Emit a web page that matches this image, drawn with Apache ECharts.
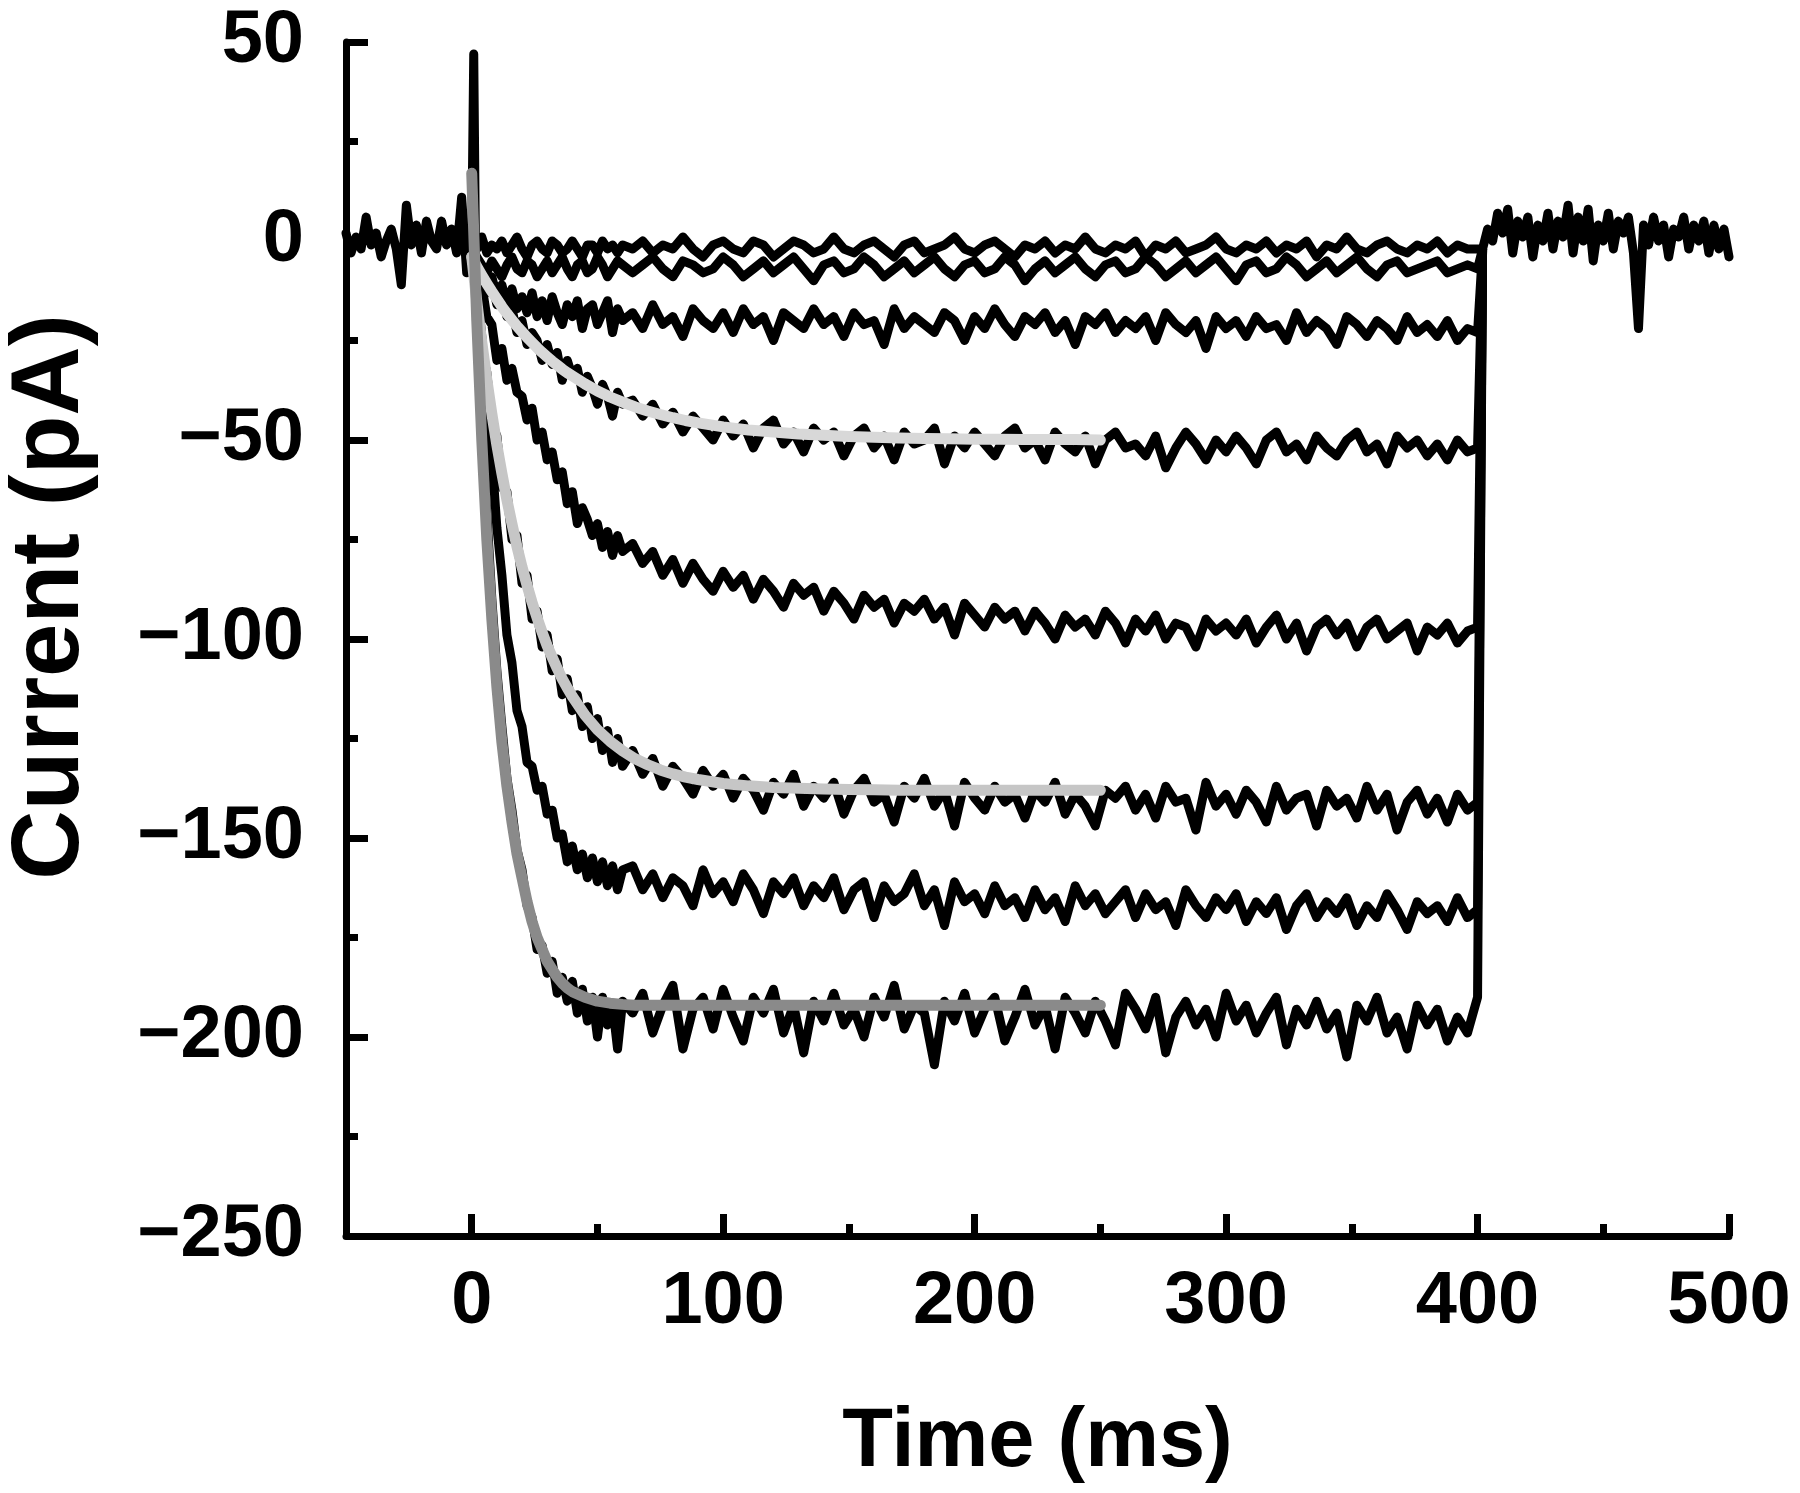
<!DOCTYPE html>
<html>
<head>
<meta charset="utf-8">
<script src="https://cdn.jsdelivr.net/npm/echarts@6/dist/echarts.min.js"></script>
<style>
html,body{margin:0;padding:0;background:#fff;}
#chart{width:1800px;height:1493px;}
</style>
</head>
<body>
<div id="chart"></div>
<script>
// ---------- tick values ----------
const X_MAJOR = [0, 100, 200, 300, 400, 500];
const X_MINOR = [50, 150, 250, 350, 450];

// ---------- pre-pulse baseline (ms, pA) ----------
const PRE_T = [-50,-48,-46,-44,-42,-40,-38,-36,-34,-32,-30,-28,-26,-24,-22,-20,-18,-16,-14,-12,-10,-8,-6,-4,-2];
const PRE_I = [2,-3,1,-2,6,-1,2,-4,0,3,-2,-11,9,-1,4,-3,5,0,-2,5,-1,3,-3,11,-8];

// ---------- capacitive transient at pulse onset ----------
const SPIKE_T = [0, 0.8, 1.6];
const SPIKE_I = [0, 47, -10];

// ---------- post-pulse (tail back to 0) ----------
const POST_T = [402,404,406,408,410,412,414,416,418,420,422,424,426,428,430,432,434,436,438,440,
                442,444,446,448,450,452,454,456,458,460,462,464,466,468,470,472,474,476,478,480,
                482,484,486,488,490,492,494,496,498,500];
const POST_I = [-2,3,0,7,2,8,-3,5,1,6,-4,4,0,7,-2,5,1,9,-3,6,
                0,8,-5,4,0,7,-2,5,2,6,-3,-22,4,-1,6,0,4,-4,3,1,
                6,-2,4,0,5,-3,4,-2,3,-4];

// ---------- sample times during the pulse (ms) ----------
const TIME = [0,2,4,6,8,10,12,14,16,18,
              20,22,24,26,28,30,32,34,36,38,
              40,42,44,46,48,50,52,54,56,58,
              60,
              64,68,72,76,80,84,88,92,96,100,
              104,108,112,116,120,124,128,132,136,140,
              144,148,152,156,160,164,168,172,176,180,
              184,188,192,196,200,204,208,212,216,220,
              224,228,232,236,240,244,248,252,256,260,
              264,268,272,276,280,284,288,292,296,300,
              304,308,312,316,320,324,328,332,336,340,
              344,348,352,356,360,364,368,372,376,380,
              384,388,392,396,400];

// ---------- current traces (pA) ----------
const TRACE_1 = [0,-2,1,-3,-1,-2,0,-3,-1,1,
                 -2,-4,-1,0,-2,-3,0,-1,-3,-2,
                 0,-2,-4,-1,-1,-3,0,-2,-1,-3,
                 -1,
                 -2,0,-3,-1,-2,1,-2,-4,-1,0,
                 -2,-3,0,-1,-4,-2,0,-1,-3,-2,
                 1,-2,-3,-1,0,-2,-4,-1,0,-3,
                 -2,-1,1,-2,-3,-1,0,-2,-4,-1,
                 -2,0,-3,-1,-2,1,-2,-3,-1,-2,
                 0,-4,-1,-2,0,-3,-2,-1,1,-2,
                 -3,-1,-2,0,-3,-1,-2,0,-4,-1,
                 -2,1,-2,-3,-1,0,-2,-3,-1,-2,
                 0,-3,-1,-2,-2];
const TRACE_2 = [-1,-4,-6,-8,-5,-7,-9,-6,-4,-7,
                 -8,-5,-6,-9,-7,-5,-8,-6,-4,-7,
                 -9,-6,-5,-8,-7,-4,-6,-9,-7,-5,
                 -6,
                 -8,-6,-4,-7,-9,-5,-6,-8,-7,-4,
                 -6,-9,-7,-5,-8,-6,-4,-7,-10,-6,
                 -5,-8,-7,-4,-6,-9,-7,-5,-8,-6,
                 -4,-7,-9,-6,-5,-8,-7,-4,-6,-10,
                 -7,-5,-8,-6,-4,-7,-9,-6,-5,-8,
                 -7,-4,-6,-9,-7,-5,-8,-6,-4,-7,
                 -10,-6,-5,-8,-7,-4,-6,-9,-7,-5,
                 -8,-6,-4,-7,-9,-6,-5,-8,-7,-6,
                 -5,-8,-7,-6,-7];
const TRACE_3 = [0,-6,-7,-12,-9,-14,-11,-16,-12,-17,
                 -14,-18,-13,-19,-15,-20,-14,-18,-21,-16,
                 -19,-15,-22,-17,-16,-21,-18,-15,-23,-17,
                 -20,
                 -18,-22,-16,-21,-19,-24,-17,-20,-22,-18,
                 -23,-17,-21,-19,-25,-18,-20,-22,-17,-21,
                 -19,-24,-18,-21,-20,-26,-17,-22,-19,-21,
                 -23,-18,-20,-25,-19,-22,-17,-21,-24,-19,
                 -21,-18,-23,-20,-26,-19,-21,-18,-23,-20,
                 -22,-19,-25,-18,-21,-23,-20,-27,-19,-22,
                 -20,-24,-19,-22,-21,-25,-18,-23,-20,-22,
                 -26,-19,-21,-24,-20,-22,-25,-19,-23,-21,
                 -24,-20,-25,-22,-23];
const TRACE_4 = [-3,-8,-7,-13,-10,-16,-14,-19,-17,-23,
                 -20,-26,-23,-25,-30,-26,-31,-28,-35,-30,
                 -34,-32,-38,-34,-37,-41,-36,-39,-44,-38,
                 -41,
                 -40,-44,-41,-46,-43,-48,-44,-47,-50,-45,
                 -49,-46,-52,-47,-45,-51,-48,-53,-47,-50,
                 -48,-54,-49,-47,-52,-49,-55,-48,-51,-50,
                 -47,-56,-49,-52,-48,-51,-54,-49,-47,-52,
                 -50,-55,-48,-51,-53,-49,-56,-50,-48,-52,
                 -51,-54,-49,-57,-52,-48,-51,-55,-50,-53,
                 -49,-52,-56,-50,-48,-53,-51,-55,-49,-52,
                 -54,-50,-48,-53,-51,-56,-49,-52,-50,-54,
                 -51,-55,-50,-53,-52];
const TRACE_5 = [-2,-7,-11,-19,-21,-30,-27,-35,-32,-38,
                 -39,-45,-42,-50,-48,-55,-53,-60,-58,-66,
                 -63,-71,-67,-70,-74,-71,-77,-73,-79,-74,
                 -78,
                 -76,-81,-78,-84,-80,-86,-81,-85,-88,-83,
                 -87,-84,-90,-85,-88,-92,-86,-89,-87,-93,
                 -88,-91,-95,-89,-92,-90,-96,-91,-93,-90,
                 -95,-92,-99,-91,-94,-97,-92,-95,-93,-98,
                 -93,-96,-100,-94,-97,-95,-99,-93,-96,-101,
                 -95,-98,-94,-100,-96,-97,-102,-95,-98,-96,
                 -99,-95,-101,-97,-94,-100,-96,-103,-97,-95,
                 -99,-96,-102,-97,-95,-100,-98,-96,-103,-97,
                 -99,-96,-101,-98,-97];
const TRACE_6 = [-3,-14,-28,-33,-46,-49,-62,-63,-75,-74,
                 -86,-84,-95,-93,-102,-99,-108,-105,-114,-110,
                 -118,-114,-122,-117,-125,-120,-128,-123,-131,-125,
                 -132,
                 -128,-134,-130,-137,-132,-135,-139,-133,-137,-134,
                 -140,-135,-138,-143,-136,-139,-134,-142,-137,-140,
                 -136,-144,-138,-135,-141,-139,-146,-137,-140,-135,
                 -142,-138,-147,-136,-140,-143,-137,-141,-139,-145,
                 -138,-141,-136,-144,-139,-142,-147,-138,-140,-137,
                 -143,-139,-145,-137,-141,-140,-148,-136,-142,-139,
                 -144,-138,-141,-146,-137,-143,-140,-139,-147,-138,
                 -142,-140,-145,-137,-143,-139,-148,-141,-138,-144,
                 -140,-146,-139,-143,-141];
const TRACE_7 = [-2,-11,-24,-42,-54,-72,-84,-99,-106,-118,
                 -122,-131,-132,-138,-137,-144,-143,-150,-149,-156,
                 -152,-158,-154,-160,-155,-161,-156,-162,-157,-163,
                 -158,
                 -157,-163,-159,-165,-160,-162,-167,-158,-164,-161,
                 -166,-159,-163,-169,-161,-164,-160,-167,-162,-165,
                 -160,-168,-163,-161,-170,-162,-166,-164,-159,-167,
                 -163,-172,-161,-166,-164,-169,-162,-167,-165,-170,
                 -163,-168,-165,-171,-162,-167,-164,-169,-166,-163,
                 -170,-164,-168,-166,-172,-163,-167,-170,-165,-168,
                 -164,-171,-166,-169,-165,-173,-167,-164,-170,-166,
                 -169,-165,-172,-167,-170,-164,-168,-173,-166,-169,
                 -167,-171,-165,-170,-168];
const TRACE_8 = [0,-14,-44,-68,-90,-108,-122,-135,-143,-153,
                 -158,-167,-170,-178,-177,-184,-181,-189,-185,-191,
                 -186,-194,-188,-196,-190,-200,-190,-197,-192,-203,
                 -191,
                 -194,-189,-199,-192,-187,-203,-193,-190,-198,-188,
                 -195,-201,-190,-194,-188,-199,-192,-204,-191,-196,
                 -189,-197,-193,-200,-190,-195,-187,-198,-192,-194,
                 -207,-191,-196,-189,-199,-193,-190,-201,-195,-188,
                 -197,-192,-203,-190,-194,-199,-191,-196,-202,-189,
                 -193,-198,-190,-204,-195,-191,-197,-193,-200,-189,
                 -196,-192,-199,-194,-190,-202,-193,-197,-191,-198,
                 -194,-205,-192,-196,-190,-199,-195,-203,-192,-197,
                 -193,-201,-195,-199,-190];
const TRACES = [TRACE_1, TRACE_2, TRACE_3, TRACE_4, TRACE_5, TRACE_6, TRACE_7, TRACE_8];

// ---------- exponential fits (ms, pA) ----------
const FIT_T = [0,2,4,6,8,10,12,14,16,18,20,22,24,26,28,30,32,34,36,38,40,
               45,50,55,60,65,70,75,80,85,90,95,100,
               110,120,130,140,150,160,170,180,190,200,210,220,230,240,250];
const FIT_A = [-4,-6.4,-8.6,-10.7,-12.7,-14.6,-16.5,-18.2,-19.8,-21.4,-22.8,-24.2,-25.5,-26.8,-28.0,-29.1,-30.2,-31.2,-32.2,-33.1,-33.9,
               -35.9,-37.7,-39.2,-40.5,-41.7,-42.7,-43.6,-44.4,-45.1,-45.7,-46.2,-46.7,
               -47.5,-48.0,-48.5,-48.8,-49.1,-49.3,-49.5,-49.6,-49.7,-49.8,-49.8,-49.9,-49.9,-49.9,-50.0];
const FIT_B = [-4,-15.1,-25.4,-34.8,-43.4,-51.3,-58.4,-65.1,-71.1,-76.8,-81.9,-86.5,-90.8,-94.7,-98.3,-101.7,-104.6,-107.4,-110.0,-112.3,-114.4,
               -119.1,-122.8,-125.7,-128.1,-130.1,-131.6,-132.9,-133.9,-134.7,-135.3,-135.8,-136.3,
               -136.9,-137.3,-137.5,-137.7,-137.8,-137.9,-138,-138,-138,-138,-138,-138,-138,-138,-138];
const FIT_C = [17,-20,-50,-75,-95,-112,-126,-137,-146,-154,-160,-166,-171,-175,-178,-181,-183,-185,-186.5,-187.7,-188.6,
               -190,-191,-191.5,-191.8,-192,-192,-192,-192,-192,-192,-192,-192,
               -192,-192,-192,-192,-192,-192,-192,-192,-192,-192,-192,-192,-192,-192,-192];
const FITS = [FIT_A, FIT_B, FIT_C];
const FIT_COLORS = ['#d8d8d8', '#c6c6c6', '#8a8a8a'];

// ---------- build ----------
const FONT = '"Liberation Sans", Arial, Helvetica, sans-serif';
const zip = (xs, ys) => xs.map((x, i) => [x, ys[i]]);
const minus = v => String(v).replace('-', '\u2212');

const series = [];
const traceStyle = {color: '#000', width: 9, join: 'round', cap: 'round'};
series.push({type: 'line', data: zip(PRE_T, PRE_I).concat([[TIME[0], TRACE_1[0]]]),
  showSymbol: false, lineStyle: traceStyle, z: 2});
TRACES.forEach(tr => {
  series.push({type: 'line', data: zip(TIME, tr).concat([[POST_T[0], POST_I[0]]]),
    showSymbol: false, lineStyle: traceStyle, z: 2});
});
series.push({type: 'line', data: zip(SPIKE_T, SPIKE_I), showSymbol: false, lineStyle: traceStyle, z: 2});
series.push({type: 'line', data: zip(POST_T, POST_I), showSymbol: false, lineStyle: traceStyle, z: 2});
FITS.forEach((f, k) => {
  series.push({type: 'line', data: zip(FIT_T, f), showSymbol: false,
    lineStyle: {color: FIT_COLORS[k], width: 11, cap: 'round', join: 'round'}, z: 3});
});

const chart = echarts.init(document.getElementById('chart'), null, {renderer: 'canvas'});
chart.setOption({
  animation: false,
  backgroundColor: '#fff',
  grid: {left: 346, right: 71, top: 42, bottom: 257, containLabel: false, outerBoundsMode: 'none'},
  xAxis: [{
    type: 'value', min: -50, max: 500,
    name: 'Time (ms)', nameLocation: 'middle', nameGap: 166,
    nameTextStyle: {fontFamily: FONT, fontWeight: 'bold', fontSize: 83, color: '#000'},
    axisLine: {show: true, onZero: false, lineStyle: {color: '#000', width: 7}},
    axisTick: {show: true, inside: true, length: 22, customValues: X_MAJOR, lineStyle: {color: '#000', width: 7}},
    axisLabel: {show: true, customValues: X_MAJOR, margin: 30, fontFamily: FONT, fontWeight: 'bold', fontSize: 74, color: '#000', formatter: minus},
    splitLine: {show: false}
  }, {
    type: 'value', min: -50, max: 500, position: 'bottom',
    axisLine: {show: false, onZero: false},
    axisTick: {show: true, inside: true, length: 12, customValues: X_MINOR, lineStyle: {color: '#000', width: 7}},
    axisLabel: {show: false},
    splitLine: {show: false}
  }],
  yAxis: {
    type: 'value', min: -250, max: 50, interval: 50,
    name: 'Current (pA)', nameLocation: 'middle', nameGap: 246, nameRotate: 90,
    nameTextStyle: {fontFamily: FONT, fontWeight: 'bold', fontSize: 96, color: '#000', padding: [0, 0, 0, 84]},
    axisLine: {show: true, onZero: false, lineStyle: {color: '#000', width: 7}},
    axisTick: {show: true, inside: true, length: 22, lineStyle: {color: '#000', width: 7}},
    minorTick: {show: true, splitNumber: 2, length: 12, lineStyle: {color: '#000', width: 7}},
    axisLabel: {margin: 42, fontFamily: FONT, fontWeight: 'bold', fontSize: 74, color: '#000', formatter: minus},
    splitLine: {show: false}, minorSplitLine: {show: false}
  },
  series: series
});
</script>
</body>
</html>
